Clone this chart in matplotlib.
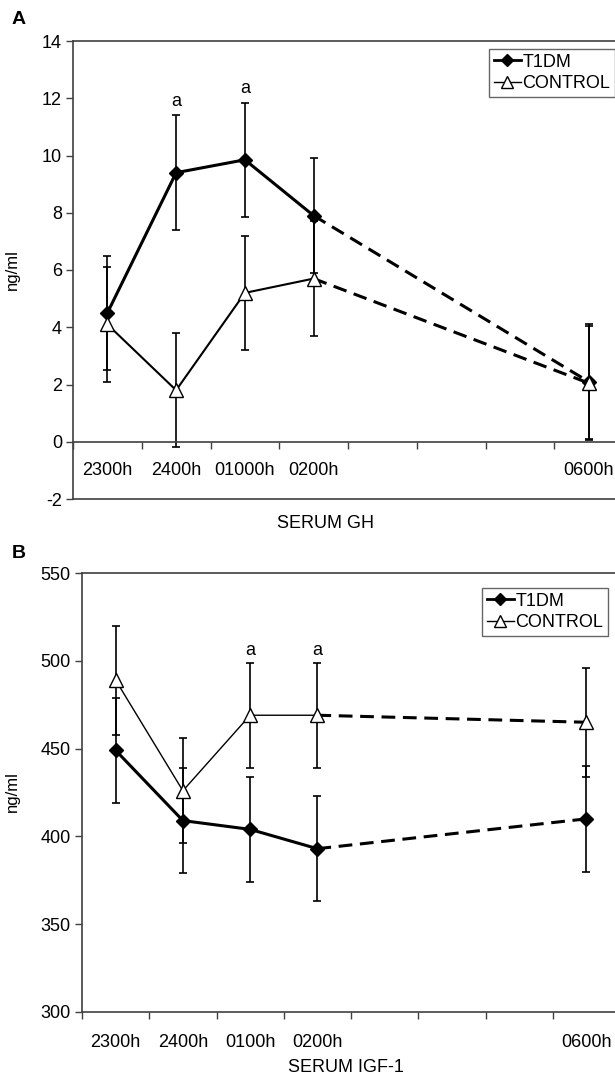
import matplotlib
matplotlib.use("Agg")
import matplotlib.pyplot as plt
import numpy as np

plt.rcParams['font.family'] = ['Liberation Sans', 'DejaVu Sans']

time_idx = [0, 1, 2, 3, 7]
labels_a = ["2300h", "2400h", "01000h", "0200h", "0600h"]
labels_b = ["2300h", "2400h", "0100h", "0200h", "0600h"]

gh_t1dm = [4.5, 9.4, 9.85, 7.9, 2.1]
gh_t1dm_err = [2.0, 2.0, 2.0, 2.0, 2.0]
gh_ctrl = [4.1, 1.8, 5.2, 5.7, 2.05]
gh_ctrl_err = [2.0, 2.0, 2.0, 2.0, 2.0]
gh_sig = [1, 2]

igf_t1dm = [449, 409, 404, 393, 410]
igf_t1dm_err = [30, 30, 30, 30, 30]
igf_ctrl = [489, 426, 469, 469, 465]
igf_ctrl_err = [31, 30, 30, 30, 31]
igf_sig = [2, 3]

fig = plt.figure(figsize=(6.15, 10.81), dpi=100)
axA = fig.add_axes([73 / 615, 1 - 499 / 1081, 550 / 615, 458 / 1081])
axB = fig.add_axes([82 / 615, 1 - 1012 / 1081, 538 / 615, 439 / 1081])

FS = 13
axis_col = '#404040'
DASH = (0, (4.5, 2.5))


def panel(ax, t1, t1e, ct, cte, sig, sig_on_t1, labels, ylim, yticks, baseline, ctrl_lw, sig_off, leg_anchor, xpad):
    x = np.array(time_idx)
    t1 = np.array(t1); ct = np.array(ct)
    ax.errorbar(x, t1, yerr=t1e, fmt='none', ecolor='black', elinewidth=1.2, capsize=2.8, capthick=1.2, zorder=2)
    ax.errorbar(x, ct, yerr=cte, fmt='none', ecolor='black', elinewidth=1.2, capsize=2.8, capthick=1.2, zorder=2)
    ax.plot(x[:4], t1[:4], '-', color='black', lw=2.2, zorder=3)
    ax.plot(x[:4], ct[:4], '-', color='black', lw=ctrl_lw, zorder=3)
    ax.plot(x[3:], t1[3:], linestyle=DASH, color='black', lw=2.2, zorder=3)
    ax.plot(x[3:], ct[3:], linestyle=DASH, color='black', lw=2.2, zorder=3)
    ax.plot(x, t1, linestyle='none', marker='D', ms=7.5, mfc='black', mec='black', zorder=5)
    ax.plot(x, ct, linestyle='none', marker='^', ms=10.5, mfc='white', mec='black', mew=1.0, zorder=6)
    h1, = ax.plot([], [], '-', color='black', lw=2.0, marker='D', ms=6, mfc='black', label='T1DM')
    h2, = ax.plot([], [], '-', color='black', lw=1.0, marker='^', ms=8, mfc='white', mec='black', label='CONTROL')
    leg = ax.legend(handles=[h1, h2], loc='upper left', bbox_to_anchor=leg_anchor, bbox_transform=fig.transFigure,
                    frameon=True, fancybox=False, edgecolor='#404040', fontsize=FS, handlelength=1.5,
                    handletextpad=0.1, borderpad=0.25, labelspacing=0.25, borderaxespad=0)
    leg.get_frame().set_linewidth(1.0)
    base = t1 if sig_on_t1 else ct
    base_e = t1e if sig_on_t1 else cte
    for i in sig:
        ax.text(x[i], base[i] + base_e[i] + sig_off, 'a', ha='center', va='bottom', fontsize=FS)
    ax.set_xlim(-0.5, 7.5)
    ax.set_ylim(*ylim)
    ax.set_yticks(yticks)
    ax.set_yticklabels([f"{v:g}" for v in yticks])
    ax.set_xticks(np.arange(-0.5, 8.0, 1.0))
    ax.set_xticklabels([])
    ax.set_xticks(x, minor=True)
    ax.set_xticklabels(labels, minor=True)
    ax.tick_params(axis='x', which='major', direction='out', length=5, width=1, color=axis_col)
    ax.tick_params(axis='x', which='minor', length=0, pad=xpad, labelsize=FS)
    ax.tick_params(axis='y', direction='out', length=5, width=1, color=axis_col, pad=3, labelsize=FS)
    for s in ['left', 'top', 'bottom']:
        ax.spines[s].set_color(axis_col)
        ax.spines[s].set_linewidth(1.2)
    ax.spines['right'].set_visible(False)
    if baseline is not None:
        ax.spines['bottom'].set_position(('data', baseline))
        ax.axhline(ylim[0], color=axis_col, lw=1.2, clip_on=False, zorder=1)
    ax.set_ylabel('ng/ml', fontsize=12)


panel(axA, gh_t1dm, gh_t1dm_err, gh_ctrl, gh_ctrl_err, gh_sig, True, labels_a, (-2, 14), list(range(-2, 15, 2)), 0,
      1.5, 0.2, (489 / 615, 1 - 49 / 1081), 14.5)
panel(axB, igf_t1dm, igf_t1dm_err, igf_ctrl, igf_ctrl_err, igf_sig, False, labels_b, (300, 550), list(range(300, 551, 50)), None,
      1.0, 2, (482 / 615, 1 - 588 / 1081), 16)

axA.yaxis.set_label_coords(20 / 615, 1 - 270 / 1081, transform=fig.transFigure)
axB.yaxis.set_label_coords(20 / 615, 1 - 792 / 1081, transform=fig.transFigure)

fig.text(19 / 615, 1 - 19 / 1081, 'A', fontsize=14, fontweight='bold', ha='center', va='center')
fig.text(19 / 615, 1 - 553 / 1081, 'B', fontsize=14, fontweight='bold', ha='center', va='center')
fig.text(326 / 615, 1 - 523 / 1081, 'SERUM GH', ha='center', va='center', fontsize=FS)
fig.text(346 / 615, 1 - 1068 / 1081, 'SERUM IGF-1', ha='center', va='center', fontsize=FS)

fig.savefig('out.png', dpi=100)
